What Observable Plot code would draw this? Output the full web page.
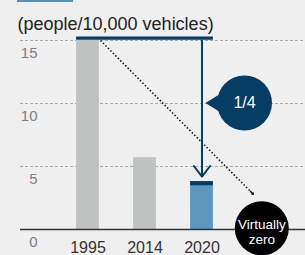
<!DOCTYPE html>
<html><head><meta charset="utf-8">
<script src="https://cdn.jsdelivr.net/npm/d3@7"></script>
<script src="https://cdn.jsdelivr.net/npm/@observablehq/plot@0.6"></script>
<style>
html,body{margin:0;padding:0;background:#efefef;}
#wrap{position:relative;width:305px;height:255px;overflow:hidden;font-family:"Liberation Sans",Arial,sans-serif;}
#chip{position:absolute;left:17px;top:0;width:56px;height:2px;background:#4f93c5;}
</style></head>
<body><div id="wrap"><div id="chip"></div></div>
<script>
const categories = ["1995", "2014", "2020"];
const values = [15, 5.7, 3.8];
const yTicks = [0, 5, 10, 15];
const subtitle = "(people/10,000 vehicles)";
const ratioLabel = "1/4";
const goalLabel = "Virtually\nzero";

const navy = "#063d63";
const hw = 0.2;
const bars = categories.map((c, i) => ({i, c, v: values[i]}));

// annotation anchors (data space: category index, value)
const dotStart = {x: 0 + hw + 0.02, y: values[0]};
const dotEnd = {x: 2.9, y: 2.8};
const dotPre = {x: dotEnd.x - 0.02 * (dotEnd.x - dotStart.x), y: dotEnd.y - 0.02 * (dotEnd.y - dotStart.y)};
const bubble = {x: 2.746, y: 10.04};
const pointer = [{x: 2.061, y: 10.04}, {x: 2.33, y: 10.8}, {x: 2.33, y: 9.28}, {x: 2.061, y: 10.04}];
const goal = {x: 3.049, y: 0.1};

const plot = Plot.plot({
  width: 305, height: 255,
  marginLeft: 20, marginRight: 0, marginTop: 40, marginBottom: 26,
  style: {background: "transparent", fontFamily: "Liberation Sans, Arial, sans-serif", overflow: "visible"},
  x: {type: "linear", domain: [-1.184, 3.816], axis: null},
  y: {domain: [0, 15], axis: null},
  marks: [
    Plot.ruleY(yTicks.filter(d => d > 0), {stroke: "#aaa", strokeDasharray: "3,2", strokeWidth: 1}),
    Plot.rectY(bars, {x1: d => d.i - hw, x2: d => d.i + hw, y1: 0, y2: "v",
      fill: d => d.c === "2020" ? "#5b97bf" : "#c0c2c1"}),
    Plot.rectY(bars.filter(d => d.c === "2020"), {x1: d => d.i - hw, x2: d => d.i + hw, y1: d => d.v - 0.33, y2: "v", fill: navy}),
    Plot.ruleY([0], {stroke: "#333", strokeWidth: 1.5}),
    Plot.text(yTicks, {y: d => d, text: d => String(d), frameAnchor: "left", dx: 17, dy: 13, textAnchor: "end", fontSize: 15, fill: "#808080"}),
    Plot.text(bars, {x: "i", y: 0, text: "c", dy: 18, fontSize: 16, fill: "#333"}),
    Plot.text([subtitle], {frameAnchor: "top-left", dx: -3, dy: -23, text: d => d, textAnchor: "start", fontSize: 18, fill: "#222"}),
    // dotted trend arrow
    Plot.link([0], {x1: () => dotStart.x, y1: () => dotStart.y, x2: () => dotEnd.x, y2: () => dotEnd.y, stroke: "#111", strokeWidth: 1.5, strokeDasharray: "1.5,2"}),
    Plot.arrow([0], {x1: () => dotPre.x, y1: () => dotPre.y, x2: () => dotEnd.x, y2: () => dotEnd.y, stroke: "#111", strokeWidth: 1.3, headAngle: 90, headLength: 10}),
    // navy top line and arrow
    Plot.ruleY([values[0]], {x1: -hw, x2: 2 + hw, stroke: navy, strokeWidth: 3.3, dy: -2.3}),
    Plot.arrow([0], {x1: () => 2, x2: () => 2, y1: () => values[0], y2: () => 4.2, stroke: navy, strokeWidth: 2, headAngle: 75, headLength: 10}),
    // bubble
    Plot.line(pointer, {x: "x", y: "y", fill: navy, stroke: "none"}),
    Plot.dot([bubble], {x: "x", y: "y", r: 27.5, fill: navy, stroke: "none"}),
    Plot.text([bubble], {x: "x", y: "y", text: () => ratioLabel, fill: "white", fontSize: 16}),
    // goal circle
    Plot.dot([goal], {x: "x", y: "y", r: 27, fill: "#000", stroke: "none"}),
    Plot.text([goal], {x: "x", y: "y", text: () => goalLabel, fill: "white", fontSize: 13.5, lineHeight: 1.12, dy: 3})
  ]
});
document.getElementById("wrap").appendChild(plot);
</script></body></html>
